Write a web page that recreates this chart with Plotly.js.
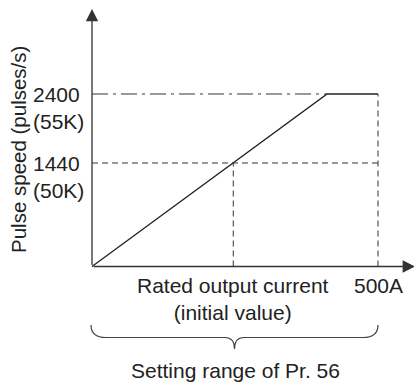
<!DOCTYPE html>
<html><head><meta charset="utf-8">
<script src="https://cdn.plot.ly/plotly-3.0.1.min.js"></script>
<style>html,body{margin:0;padding:0;background:#fff}#chart{width:414px;height:383px}</style>
</head><body><div id="chart"></div>
<script>
// ---- data ----
const currentA = [0, 411, 500];          // output current (A) breakpoints of the curve
const pulseSpeed = [0, 2400, 2400];      // pulse speed (pulses/s)
const levelValues = [2400, 1440];
const levelLabels = ['2400', '1440'];
const levelSubLabels = ['(55K)', '(50K)'];
const ratedCurrent = 247;
const maxCurrent = 500;
const xLabels = ['Rated output current<br>(initial value)', '500A'];
const xLabelValues = [ratedCurrent, maxCurrent];
const yTitle = 'Pulse speed (pulses/s)';
const rangeLabel = 'Setting range of Pr. 56';

// ---- pixel frame ----
const W = 414, H = 383;
const ox = 92, oy = 266.5, pxMax = 378, pyMax = 94;
const kx = (pxMax - ox) / maxCurrent, ky = (oy - pyMax) / levelValues[0];
const X = px => (px - ox) / kx;
const Y = py => (oy - py) / ky;

const ink = '#222';
const dashStyle = '6px,4px';
const dashDot = '16px,5px,3px,5px';

const traces = [
  {x: currentA, y: pulseSpeed, mode: 'lines', line: {color: ink, width: 1.3}},
  {x: [0, currentA[1]], y: [levelValues[0], levelValues[0]], mode: 'lines', line: {color: '#333', width: 1, dash: dashDot}},
  {x: [0, maxCurrent], y: [levelValues[1], levelValues[1]], mode: 'lines', line: {color: '#333', width: 1, dash: dashStyle}},
  {x: [ratedCurrent, ratedCurrent], y: [0, levelValues[1]], mode: 'lines', line: {color: '#333', width: 1, dash: dashStyle}},
  {x: [maxCurrent, maxCurrent], y: [0, levelValues[0]], mode: 'lines', line: {color: '#333', width: 1, dash: dashStyle}}
];

const font = {family: 'Liberation Sans, Arial, sans-serif', size: 21, color: ink};
const titleFont = {family: 'Liberation Sans, Arial, sans-serif', size: 20.5, color: ink};
const annotations = [];
// axes with arrows
annotations.push({x: 0, y: Y(9), ax: 0, ay: Y(oy), xref: 'x', yref: 'y', axref: 'x', ayref: 'y',
  text: '', showarrow: true, arrowhead: 2, arrowsize: 1.9, arrowwidth: 1.3, arrowcolor: '#333'});
annotations.push({x: X(415), y: 0, ax: X(ox), ay: 0, xref: 'x', yref: 'y', axref: 'x', ayref: 'y',
  text: '', showarrow: true, arrowhead: 2, arrowsize: 1.9, arrowwidth: 1.3, arrowcolor: '#333'});
// y level labels
levelValues.forEach((v, i) => {
  annotations.push({x: 0, y: v, xref: 'x', yref: 'y', text: levelLabels[i], showarrow: false,
    xanchor: 'left', yanchor: 'middle', xshift: -61, font});
  annotations.push({x: 0, y: v, xref: 'x', yref: 'y', text: levelSubLabels[i], showarrow: false,
    xanchor: 'left', yanchor: 'middle', xshift: -61, yshift: -27, font});
});
// x labels
xLabelValues.forEach((v, i) => {
  annotations.push({x: v, y: 0, xref: 'x', yref: 'y', text: xLabels[i], showarrow: false,
    xanchor: 'center', yanchor: 'top', yshift: -5, align: 'center', font});
});
// y title
annotations.push({x: X(18), y: Y(150), xref: 'x', yref: 'y', text: yTitle, showarrow: false,
  textangle: -90, xanchor: 'center', yanchor: 'middle', font: titleFont});
// range label
annotations.push({x: X(235), y: Y(370), xref: 'x', yref: 'y', text: rangeLabel, showarrow: false,
  xanchor: 'center', yanchor: 'middle', font});

// brace
const bL = X(91), bR = X(378), bC = X(234.5);
const yTop = Y(325), yLine = Y(337.5), yTip = Y(349);
const p = (x, y) => x + ',' + y;
const bracePath = 'M' + p(bL, yTop) +
  ' Q' + p(bL, yLine) + ' ' + p(X(106), yLine) +
  ' L' + p(X(225), yLine) +
  ' Q' + p(bC, yLine) + ' ' + p(bC, yTip) +
  ' Q' + p(bC, yLine) + ' ' + p(X(244), yLine) +
  ' L' + p(X(363), yLine) +
  ' Q' + p(bR, yLine) + ' ' + p(bR, yTop);

const layout = {
  width: W, height: H,
  margin: {l: 0, r: 0, t: 0, b: 0},
  paper_bgcolor: '#fff', plot_bgcolor: '#fff',
  showlegend: false,
  xaxis: {range: [X(0), X(W)], visible: false, fixedrange: true},
  yaxis: {range: [Y(H), Y(0)], visible: false, fixedrange: true},
  shapes: [{type: 'path', xref: 'x', yref: 'y', path: bracePath, line: {color: '#444', width: 1.2}}],
  annotations
};

Plotly.newPlot('chart', traces, layout, {staticPlot: true, displayModeBar: false});
</script>
</body></html>
